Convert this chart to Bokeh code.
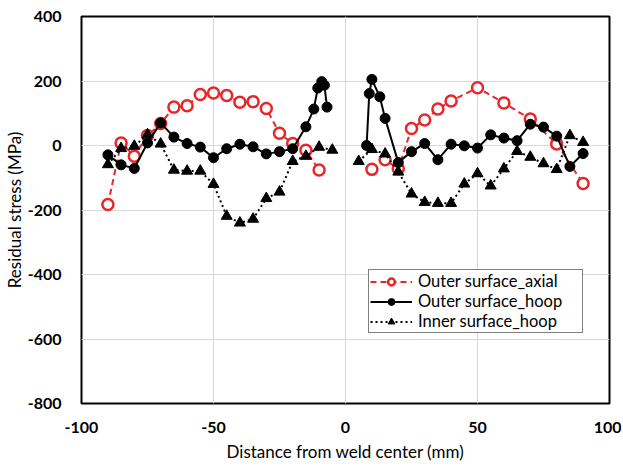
from bokeh.plotting import figure
from bokeh.models import Range1d, SingleIntervalTicker, Legend, LegendItem, PrintfTickFormatter
from bokeh.embed import file_html
from bokeh.resources import INLINE

# Outer surface, axial (left / right of weld)
axial_left_x = [-90, -85, -80, -75, -70, -65, -60, -55, -50, -45, -40, -35, -30, -25, -20, -15, -10]
axial_left_y = [-183, 8, -33, 31, 68, 119, 123, 158, 163, 155, 134, 136, 115, 38, 6, -15, -76]
axial_right_x = [10, 15, 20, 25, 30, 35, 40, 50, 60, 70, 80, 90]
axial_right_y = [-74, -44, -72, 53, 79, 113, 138, 179, 132, 82, 5, -118]

# Outer surface, hoop
hoop_left_x = [-90, -85, -80, -75, -70, -65, -60, -55, -50, -45, -40, -35, -30, -25, -20, -15, -12, -10.5, -9, -8, -7]
hoop_left_y = [-29, -60, -71, 8, 70, 26, 6, -5, -38, -10, 4, -4, -26, -19, -10, 58, 113, 178, 198, 187, 119]
hoop_right_x = [8, 9, 10, 13, 15, 20, 25, 30, 35, 40, 45, 50, 55, 60, 65, 70, 75, 80, 85, 90]
hoop_right_y = [0, 161, 205, 151, 84, -53, -19, 6, -44, 4, -1, -8, 33, 23, 15, 66, 57, 29, -65, -25]

# Inner surface, hoop
inner_left_x = [-90, -85, -80, -75, -70, -65, -60, -55, -50, -45, -40, -35, -30, -25, -20, -15, -10, -5]
inner_left_y = [-59, -9, -2, 34, 5, -76, -79, -79, -120, -219, -240, -228, -164, -144, -49, -33, -5, -14]
inner_right_x = [5, 10, 15, 20, 25, 30, 35, 40, 45, 50, 55, 60, 65, 70, 75, 80, 85, 90]
inner_right_y = [-49, -12, -26, -82, -150, -176, -179, -179, -119, -87, -125, -72, -18, -36, -56, -74, 31, 10]

labels = ["Outer surface_axial", "Outer surface_hoop", "Inner surface_hoop"]

FONT = "Lato"

p = figure(width=621, height=464, output_backend="svg", toolbar_location=None,
           x_range=Range1d(-100, 100), y_range=Range1d(-800, 400),
           min_border_left=80, min_border_right=12, min_border_top=16, min_border_bottom=58)
p.background_fill_color = "white"
p.border_fill_color = "white"
p.outline_line_color = "black"
p.outline_line_width = 2

p.xaxis.ticker = SingleIntervalTicker(interval=50)
p.yaxis.ticker = SingleIntervalTicker(interval=200)
p.xgrid.ticker = SingleIntervalTicker(interval=50)
p.ygrid.ticker = SingleIntervalTicker(interval=200)
for g in (p.xgrid, p.ygrid):
    g.grid_line_color = "#d9d9d9"
    g.grid_line_width = 1

for ax in (p.xaxis, p.yaxis):
    ax.formatter = PrintfTickFormatter(format="%d")
    ax.axis_line_color = None
    ax.major_tick_line_color = None
    ax.minor_tick_line_color = None
    ax.major_label_text_font = FONT
    ax.major_label_text_font_style = "bold"
    ax.major_label_text_font_size = "16px"
    ax.major_label_text_color = "black"
    ax.axis_label_text_font = FONT
    ax.axis_label_text_font_style = "normal"
    ax.axis_label_text_font_size = "17px"
    ax.axis_label_text_color = "black"
p.xaxis.axis_label = "Distance from weld center (mm)"
p.yaxis.axis_label = "Residual stress (MPa)"
p.xaxis.major_label_standoff = 12
p.yaxis.major_label_standoff = 14
p.xaxis.axis_label_standoff = 5
p.yaxis.axis_label_standoff = 0

red = "#e8262a"
items = []

# axial
rs = []
for xs, ys in ((axial_left_x, axial_left_y), (axial_right_x, axial_right_y)):
    l = p.line(xs, ys, line_color=red, line_width=2, line_dash="6 4")
    s = p.scatter(xs, ys, marker="circle", size=11, line_color=red, line_width=2.5, fill_color="white")
    rs.append((l, s))
items.append(LegendItem(label=labels[0], renderers=list(rs[0])))

# outer hoop
rs = []
for xs, ys in ((hoop_left_x, hoop_left_y), (hoop_right_x, hoop_right_y)):
    l = p.line(xs, ys, line_color="black", line_width=2)
    s = p.scatter(xs, ys, marker="circle", size=10, line_color="black", fill_color="black")
    rs.append((l, s))
items.append(LegendItem(label=labels[1], renderers=list(rs[0])))

# inner hoop
rs = []
for xs, ys in ((inner_left_x, inner_left_y), (inner_right_x, inner_right_y)):
    l = p.line(xs, ys, line_color="black", line_width=2, line_dash="2 3")
    s = p.scatter(xs, ys, marker="triangle", size=11, line_color="black", fill_color="black")
    rs.append((l, s))
items.append(LegendItem(label=labels[2], renderers=list(rs[0])))

legend = Legend(items=items, location=(287, 70))
legend.label_text_font = FONT
legend.label_text_font_size = "16.5px"
legend.label_text_color = "black"
legend.glyph_width = 42
legend.glyph_height = 17
legend.label_height = 17
legend.label_width = 163
legend.label_standoff = 6
legend.spacing = 0
legend.padding = 1
legend.margin = 0
legend.border_line_color = "black"
legend.border_line_width = 1.5
legend.background_fill_alpha = 1
p.add_layout(legend, "center")

open("out.html", "w").write(file_html(p, INLINE))
